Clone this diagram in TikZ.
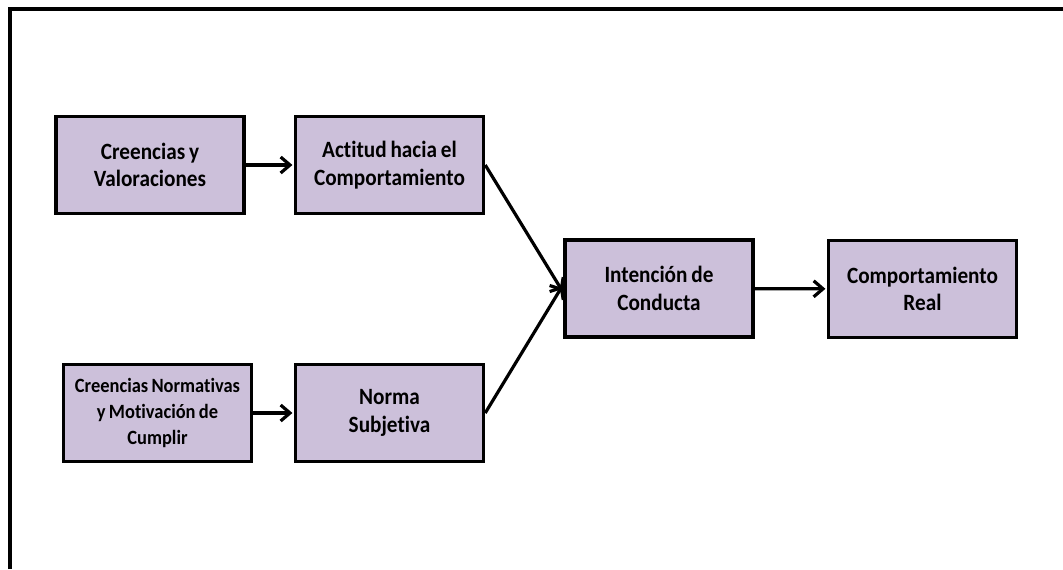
\documentclass[tikz,border=0pt]{standalone}
\usepackage{fontspec}
\setmainfont{Carlito}[WordSpace=0.8, Ligatures=NoCommon, FakeStretch=0.91]
\usetikzlibrary{arrows.meta}
\definecolor{boxfill}{HTML}{CCC0DA}
\tikzset{
  box/.style={draw=black, line width=2.6pt, fill=boxfill, rectangle,
    minimum width=141pt, minimum height=73pt, align=center, inner sep=0pt,
    font=\bfseries\fontsize{17.5}{20.5}\selectfont},
  smallbox/.style={box, font=\bfseries\fontsize{15.2}{19.5}\selectfont},
  link/.style={line width=2.4pt, -{Straight Barb[length=7pt,width=12pt,line width=2.4pt]}, shorten >=1pt},
}
\begin{document}
\begin{tikzpicture}[x=0.75pt, y=-0.75pt]
  \useasboundingbox (0,0) rectangle (1063,569);
  % open frame: top and left edges
  \draw[line width=3pt] (10,569) -- (10,8.5) -- (1063,8.5);

  \node[box]      (cv)  at (150,165)   {Creencias y\\Valoraciones};
  \node[box]      (act) at (389.5,165) {Actitud hacia el\\Comportamiento};
  \node[smallbox] (cn)  at (157.5,413) {Creencias Normativas\\y Motivación de\\Cumplir};
  \node[box]      (ns)  at (389.5,413) {Norma\\Subjetiva};
  \node[box]      (ic)  at (659,288.5) {Intención de\\Conducta};
  \node[box]      (cr)  at (922.5,289) {Comportamiento\\Real};

  \draw[link] (cv) -- (act);
  \draw[link] (cn) -- (ns);
  \draw[link] (act.east) -- ([yshift=-3pt]ic.west);
  \draw[link] (ns.east) -- ([yshift=3pt]ic.west);
  \draw[link] (ic) -- (cr);
\end{tikzpicture}
\end{document}
